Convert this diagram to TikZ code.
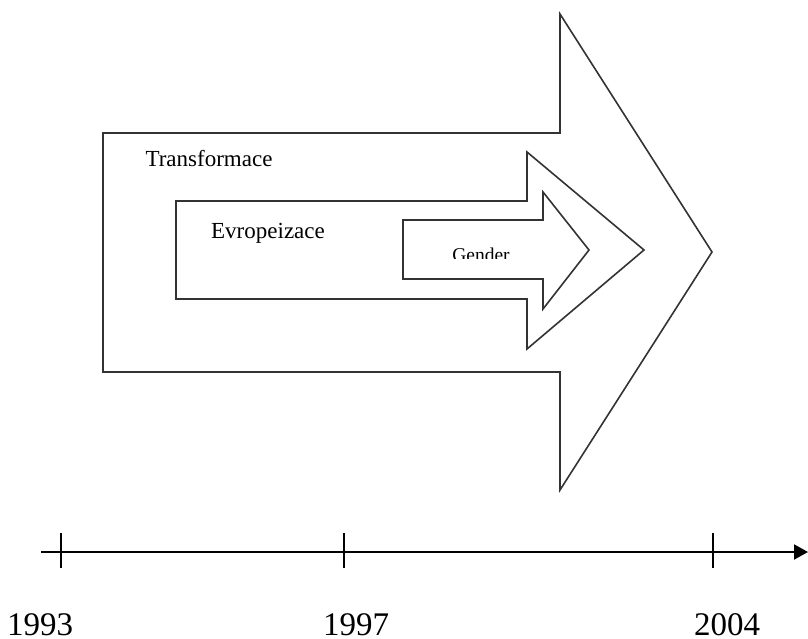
\documentclass[tikz,border=0pt]{standalone}
\usepackage{fontspec}
\setmainfont{Liberation Serif}
\usetikzlibrary{arrows.meta}
\begin{document}
\begin{tikzpicture}[x=1pt,y=-1pt,
  arrowshape/.style={draw=black!80,line width=1.6pt,line join=miter,fill=white},
  lbl/.style={inner sep=0pt,font=\fontsize{23}{23}\selectfont},
  year/.style={inner sep=0pt,anchor=base,font=\fontsize{33}{33}\selectfont},
  tick/.style={draw=black,line width=1.2pt},
  axis/.style={draw=black,line width=2pt,-{Triangle[length=14pt,width=15pt]}}]
\useasboundingbox (0,0) rectangle (808,639);
% big arrow
\draw[arrowshape] (103,133) -- (560,133) -- (560,14) -- (712,252) -- (560,490) -- (560,372) -- (103,372) -- cycle;
% middle arrow
\draw[arrowshape] (176,201) -- (527,201) -- (527,152) -- (644,250) -- (527,349) -- (527,299) -- (176,299) -- cycle;
% small arrow
\draw[arrowshape] (403,220) -- (543,220) -- (543,192) -- (589,250) -- (543,309) -- (543,279) -- (403,279) -- cycle;
% labels
\node[lbl,anchor=base] (tr) at (209,167) {Transformace};
\node[lbl,anchor=base] (ev) at (268,238) {Evropeizace};
\begin{scope}
\clip (440,238) rectangle (520,258);
\node[inner sep=0pt,anchor=base,font=\fontsize{19.5}{19.5}\selectfont] (ge) at (481,261) {Gender};
\end{scope}
% axis
\coordinate (a0) at (41,552);
\coordinate (a1) at (808,552);
\draw[axis] (a0) -- (a1);
\coordinate (t1a) at (61,533); \coordinate (t1b) at (61,568);
\coordinate (t2a) at (344,533); \coordinate (t2b) at (344,568);
\coordinate (t3a) at (713,533); \coordinate (t3b) at (713,568);
\draw[tick] (t1a) -- (t1b);
\draw[tick] (t2a) -- (t2b);
\draw[tick] (t3a) -- (t3b);
\node[year] (y1) at (40,635) {1993};
\node[year] (y2) at (356,635) {1997};
\node[year] (y3) at (727,635) {2004};
\end{tikzpicture}
\end{document}
